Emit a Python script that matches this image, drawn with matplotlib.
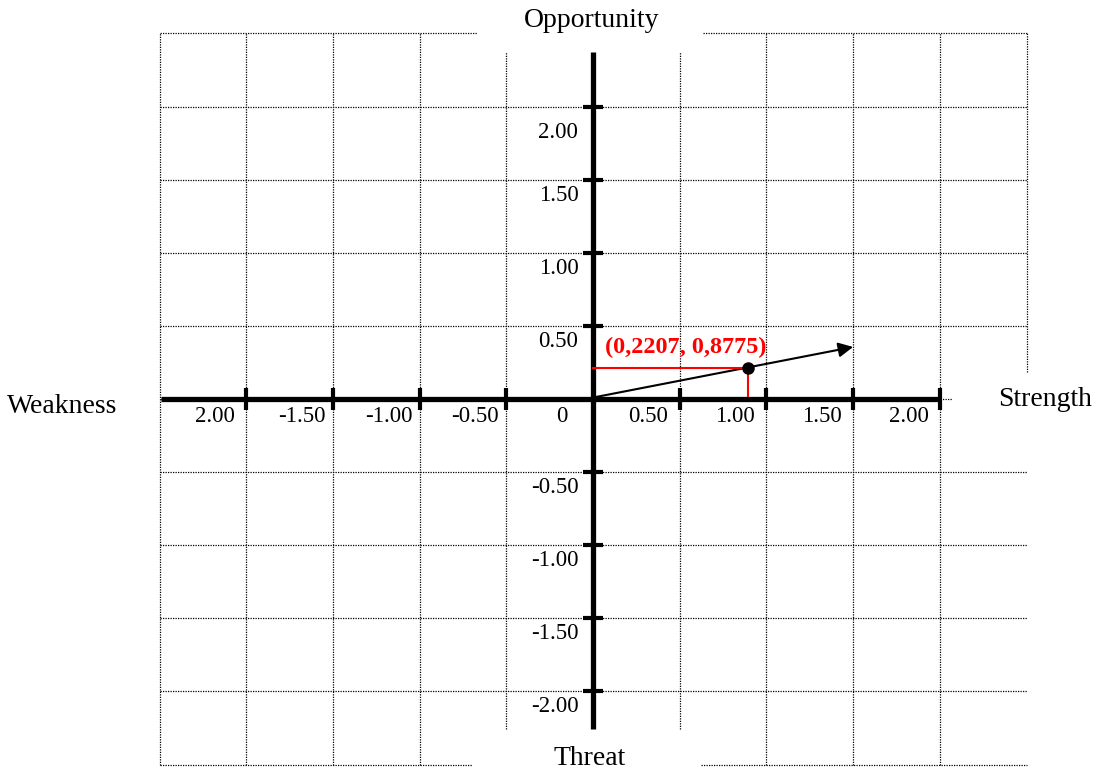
import numpy as np
import matplotlib
matplotlib.use('Agg')
import matplotlib.pyplot as plt

plt.rcParams['font.family'] = ['Liberation Serif', 'DejaVu Serif']

# axis ticks and labels
x_ticks = [-2.0, -1.5, -1.0, -0.5, 0.0, 0.5, 1.0, 1.5, 2.0]
x_labels = ['2.00', '-1.50', '-1.00', '-0.50', '0', '0.50', '1.00', '1.50', '2.00']
y_ticks = [2.0, 1.5, 1.0, 0.5, -0.5, -1.0, -1.5, -2.0]
y_labels = ['2.00', '1.50', '1.00', '0.50', '-0.50', '-1.00', '-1.50', '-2.00']
grid_vals = [-2.5, -2.0, -1.5, -1.0, -0.5, 0.0, 0.5, 1.0, 1.5, 2.0, 2.5]

# the vector and the marked point
vec_end = (1.50, 0.356)
point = (0.894, 0.212)
point_label = '(0,2207, 0,8775)'

fig = plt.figure(figsize=(10.94, 7.72), dpi=100)
ax = fig.add_axes([0, 0, 1, 1])
ax.set_xlim(-3.42, 2.889)
ax.set_ylim(-2.551, 2.729)
ax.axis('off')

gkw = dict(color='black', lw=0.9, ls=(0, (1, 1)), zorder=1)
# vertical grid lines
for g in grid_vals:
    if g == 0.0:
        continue
    top, bot = 2.5, -2.5
    if g in (-0.5, 0.5):
        top, bot = 2.37, -2.26
    if g == 2.5:
        bot = 0.185
    ax.plot([g, g], [bot, top], **gkw)
# horizontal grid lines
for g in grid_vals:
    if g == 2.5:
        ax.plot([-2.5, -0.669], [g, g], **gkw)
        ax.plot([0.634, 2.5], [g, g], **gkw)
    elif g == -2.5:
        ax.plot([-2.5, -0.70], [g, g], **gkw)
        ax.plot([0.62, 2.5], [g, g], **gkw)
    elif g == 0.0:
        ax.plot([-2.5, 2.07], [g, g], **gkw)
    else:
        ax.plot([-2.5, 2.5], [g, g], **gkw)

# main axes
ax.plot([-2.49, 2.0], [0, 0], color='black', lw=3.8, solid_capstyle='butt', zorder=3)
ax.plot([0, 0], [-2.26, 2.37], color='black', lw=3.8, solid_capstyle='butt', zorder=3)

for xt, lab in zip(x_ticks, x_labels):
    if xt != 0.0:
        ax.plot([xt, xt], [-0.075, 0.075], color='black', lw=3, solid_capstyle='butt', zorder=3)
    ax.text(xt - 0.18, -0.12, lab, ha='center', va='center', fontsize=16.5)
for i, (yt, lab) in enumerate(zip(y_ticks, y_labels)):
    ax.plot([-0.06, 0.06], [yt, yt], color='black', lw=3, solid_capstyle='butt', zorder=3)
    off = 0.18 if i == 0 else 0.105
    ax.text(-0.085, yt - off, lab, ha='right', va='center', fontsize=16.5)

# vector
ax.annotate('', xy=vec_end, xytext=(0, 0.01),
            arrowprops=dict(arrowstyle='-|>', lw=1.5, mutation_scale=22, color='black',
                            shrinkA=0, shrinkB=0), zorder=4)
ax.plot([0, point[0]], [point[1], point[1]], color='red', lw=1.5, zorder=4)
ax.plot([point[0], point[0]], [point[1], 0.02], color='red', lw=1.5, zorder=4)
ax.plot(point[0], point[1], 'o', color='black', ms=8, zorder=5)
ax.text(0.536, 0.35, point_label, color='red', fontweight='bold', fontsize=17.5,
        ha='center', va='center', zorder=5)

# quadrant labels
ax.text(-0.01, 2.59, 'Opportunity', ha='center', va='center', fontsize=20)
ax.text(-0.02, -2.457, 'Threat', ha='center', va='center', fontsize=20)
ax.text(-3.06, -0.05, 'Weakness', ha='center', va='center', fontsize=20)
ax.text(2.607, 0.0, 'Strength', ha='center', va='center', fontsize=20)

fig.savefig('out.png', dpi=100)
